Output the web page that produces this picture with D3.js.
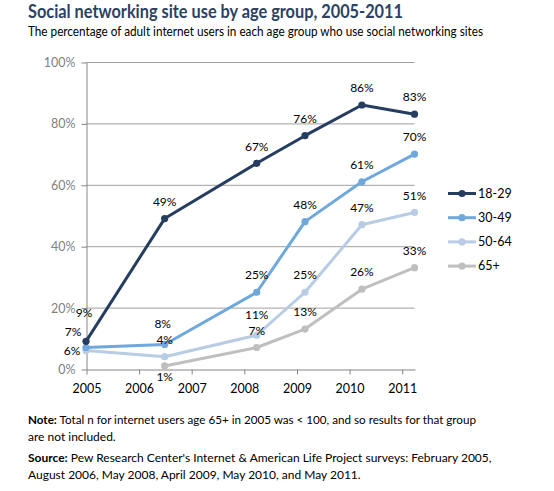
<!DOCTYPE html>
<html>
<head>
<meta charset="utf-8">
<script src="https://cdn.jsdelivr.net/npm/d3@7"></script>
<style>
  body { margin: 0; background: #fff; }
  svg { display: block; font-family: Lato, "Open Sans", sans-serif; }
</style>
</head>
<body>
<div id="chart"></div>
<script>
// survey dates (Feb 2005, Aug 2006, May 2008, Apr 2009, May 2010, May 2011)
var surveyDates = ["2005-02-01", "2006-08-01", "2008-05-01", "2009-04-01", "2010-05-01", "2011-05-01"];
var groups = ["18-29", "30-49", "50-64", "65+"];
var age18to29 = [9, 49, 67, 76, 86, 83];
var age30to49 = [7, 8, 25, 48, 61, 70];
var age50to64 = [6, 4, 11, 25, 47, 51];
var age65plus = [null, 1, 7, 13, 26, 33];
var yTicks = [0, 20, 40, 60, 80, 100];
var xYears = [2005, 2006, 2007, 2008, 2009, 2010, 2011];

var colors = ["#253d5f", "#6fa8dc", "#b8cce4", "#bfbfbf"];

// label nudges for the crowded points (series-index)
var labelNudge = {
  "0-0": [-2, -29],
  "1-0": [-13, -16],
  "2-0": [-14, 0],
  "1-1": [-2, -21],
  "2-2": [0, -20],
  "3-1": [0, 11]
};

var parseDate = d3.timeParse("%Y-%m-%d");
var dates = surveyDates.map(parseDate);
var seriesValues = [age18to29, age30to49, age50to64, age65plus];
var series = groups.map(function(g, i) {
  return {
    name: g,
    color: colors[i],
    points: dates.map(function(d, j) { return { date: d, value: seriesValues[i][j], s: i, j: j }; })
                 .filter(function(p) { return p.value != null; })
  };
});

var svg = d3.select("#chart").append("svg").attr("width", 554).attr("height", 491);

var x = d3.scaleTime()
    .domain([new Date(2005, 1, 1), new Date(2011, 4, 1)])
    .range([86, 414.5]);
var y = d3.scaleLinear().domain([0, 100]).range([369, 62]);

function fit(sel, w) {
  sel.each(function() {
    if (this.getComputedTextLength() > w) {
      d3.select(this).attr("textLength", w).attr("lengthAdjust", "spacingAndGlyphs");
    }
  });
}

// titles
svg.append("text").attr("x", 28).attr("y", 18)
    .attr("font-size", 18.5).attr("font-weight", "bold").attr("fill", "#2b4263")
    .text("Social networking site use by age group, 2005-2011")
    .call(fit, 375);
svg.append("text").attr("x", 28).attr("y", 35.5)
    .attr("font-size", 12.5).attr("fill", "#000")
    .text("The percentage of adult internet users in each age group who use social networking sites")
    .call(fit, 455);

// gridlines
svg.append("g").selectAll("line")
  .data(yTicks.filter(function(d) { return d > 0; }))
  .enter().append("line")
    .attr("x1", x.range()[0]).attr("x2", x.range()[1])
    .attr("y1", function(d) { return y(d) + 0.5; })
    .attr("y2", function(d) { return y(d) + 0.5; })
    .attr("stroke", "#a0a0a0").attr("stroke-width", 1);

// y axis
var yAxis = svg.append("g")
    .attr("transform", "translate(" + (x.range()[0] + 0.5) + ",0.5)")
    .call(d3.axisLeft(y).tickValues(yTicks).tickSize(5).tickSizeOuter(0)
      .tickFormat(function(d) { return d + "%"; }));
yAxis.select(".domain").attr("stroke", "#868686");
yAxis.selectAll(".tick line").attr("stroke", "#868686");
yAxis.selectAll(".tick text").attr("x", -11).attr("font-size", 12.5)
    .attr("font-family", "Lato, sans-serif").attr("fill", "#7f7f7f");

// x axis
var xAxis = svg.append("g")
    .attr("transform", "translate(0.5," + (y(0) + 0.5) + ")")
    .call(d3.axisBottom(x)
      .tickValues(xYears.map(function(yr) { return new Date(yr, 1, 1); }))
      .tickSize(5).tickSizeOuter(0)
      .tickFormat(d3.timeFormat("%Y")));
xAxis.select(".domain").attr("stroke", "#868686");
xAxis.selectAll(".tick line").attr("stroke", "#868686");
xAxis.selectAll(".tick text").attr("y", 15).attr("font-size", 12.5)
    .attr("font-family", "Lato, sans-serif").attr("fill", "#000");

// lines
var line = d3.line()
    .x(function(d) { return x(d.date); })
    .y(function(d) { return y(d.value); });

var sg = svg.append("g").selectAll("g")
  .data(series.slice().reverse())
  .enter().append("g");

sg.append("path")
    .attr("d", function(d) { return line(d.points); })
    .attr("fill", "none")
    .attr("stroke", function(d) { return d.color; })
    .attr("stroke-width", 3)
    .attr("stroke-linejoin", "round");

sg.selectAll("circle")
  .data(function(d) { return d.points.map(function(p) { p.color = d.color; return p; }); })
  .enter().append("circle")
    .attr("cx", function(d) { return x(d.date); })
    .attr("cy", function(d) { return y(d.value); })
    .attr("r", 3.6)
    .attr("fill", function(d) { return d.color; });

// data labels
var allPoints = [];
series.forEach(function(s) { allPoints = allPoints.concat(s.points); });
svg.append("g").selectAll("text")
  .data(allPoints)
  .enter().append("text")
    .attr("x", function(d) { var n = labelNudge[d.s + "-" + d.j]; return x(d.date) + (n ? n[0] : 0); })
    .attr("y", function(d) { var n = labelNudge[d.s + "-" + d.j]; return y(d.value) + (n ? n[1] : -17); })
    .attr("dy", "0.35em")
    .attr("text-anchor", "middle")
    .attr("font-size", 12).attr("fill", "#000")
    .text(function(d) { return d.value + "%"; });

// legend
var legend = svg.append("g").selectAll("g")
  .data(series)
  .enter().append("g")
    .attr("transform", function(d, i) { return "translate(448," + (193.5 + i * 24.2) + ")"; });
legend.append("line").attr("x1", 0).attr("x2", 28)
    .attr("stroke", function(d) { return d.color; }).attr("stroke-width", 3);
legend.append("circle").attr("cx", 14).attr("r", 3.6)
    .attr("fill", function(d) { return d.color; });
legend.append("text").attr("x", 30).attr("dy", "0.35em")
    .attr("font-size", 12.5).attr("fill", "#000")
    .text(function(d) { return d.name; });

// notes
var notes = [
  { b: "Note:", t: " Total n for internet users age 65+ in 2005 was < 100, and so results for that group", y: 424, w: 448 },
  { b: "", t: "are not included.", y: 441, w: 0 },
  { b: "Source:", t: " Pew Research Center's Internet & American Life Project surveys: February 2005,", y: 462, w: 478 },
  { b: "", t: "August 2006, May 2008, April 2009, May 2010, and May 2011.", y: 479, w: 0 }
];
var nt = svg.append("g").selectAll("text")
  .data(notes)
  .enter().append("text")
    .attr("x", 28).attr("y", function(d) { return d.y; })
    .attr("font-size", 12).attr("fill", "#000");
nt.append("tspan").attr("font-weight", "bold").text(function(d) { return d.b; });
nt.append("tspan").text(function(d) { return d.t; });
nt.each(function(d) { if (d.w) d3.select(this).call(fit, d.w); });
</script>
</body>
</html>
